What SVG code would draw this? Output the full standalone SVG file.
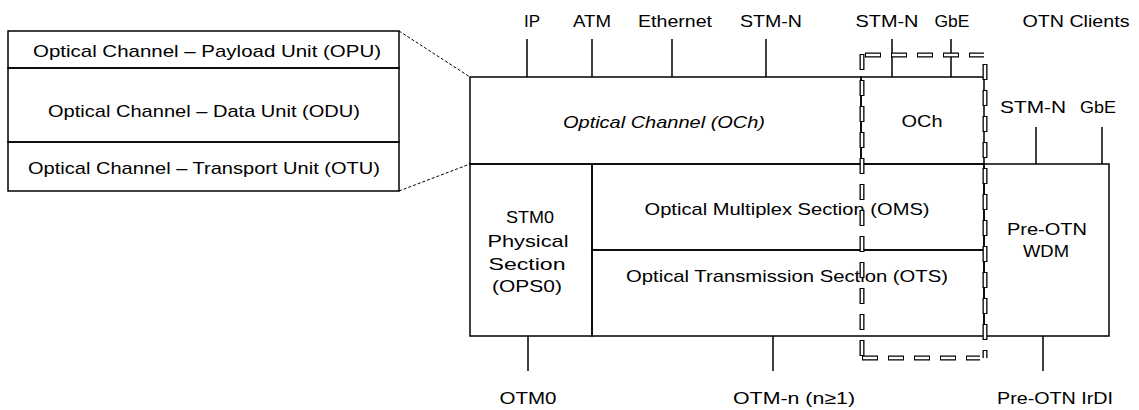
<svg xmlns="http://www.w3.org/2000/svg" width="1139" height="410" viewBox="0 0 1139 410">
<style>
.box{fill:none;stroke:#000;stroke-width:1.5}
.ln{fill:none;stroke:#000;stroke-width:1.5}
.dot{fill:none;stroke:#000;stroke-width:1;stroke-dasharray:3 2}
.dk{fill:none;stroke:#000;stroke-width:5;stroke-dasharray:16 10}
.dw{fill:none;stroke:#fff;stroke-width:2.4;stroke-dasharray:14 12;stroke-dashoffset:-1}
text{font-family:"Liberation Sans",Arial,sans-serif;font-size:17px;fill:#000;text-anchor:middle}
.it{font-style:italic}
</style>
<rect x="0" y="0" width="1139" height="410" fill="#fff"/>
<g id="otn-frame-stack">
<g id="opu"><rect class="box" x="8" y="31" width="391" height="37"/><text x="207" y="57" textLength="348" lengthAdjust="spacingAndGlyphs">Optical Channel – Payload Unit (OPU)</text></g>
<g id="odu"><rect class="box" x="8" y="68" width="391" height="74"/><text x="204" y="117" textLength="312" lengthAdjust="spacingAndGlyphs">Optical Channel – Data Unit (ODU)</text></g>
<g id="otu"><rect class="box" x="8" y="142" width="391" height="49"/><text x="204" y="174" textLength="352" lengthAdjust="spacingAndGlyphs">Optical Channel – Transport Unit (OTU)</text></g>
</g>
<g id="och"><rect class="box" x="470" y="77" width="391" height="87"/><text class="it" x="664" y="128" textLength="202" lengthAdjust="spacingAndGlyphs">Optical Channel (OCh)</text></g>
<g id="och-small"><rect class="box" x="861" y="77" width="123" height="87"/><text x="922" y="127" textLength="41" lengthAdjust="spacingAndGlyphs">OCh</text></g>
<g id="ops0"><rect class="box" x="470" y="164" width="122" height="172"/>
<text x="530" y="223" textLength="48" lengthAdjust="spacingAndGlyphs">STM0</text>
<text x="528" y="247" textLength="81" lengthAdjust="spacingAndGlyphs">Physical</text>
<text x="527" y="270" textLength="77" lengthAdjust="spacingAndGlyphs">Section</text>
<text x="527" y="292" textLength="70" lengthAdjust="spacingAndGlyphs">(OPS0)</text></g>
<g id="oms"><rect class="box" x="592" y="164" width="392" height="86"/><text x="787" y="215" textLength="285" lengthAdjust="spacingAndGlyphs">Optical Multiplex Section (OMS)</text></g>
<g id="ots"><rect class="box" x="592" y="250" width="392" height="86"/><text x="787" y="282" textLength="322" lengthAdjust="spacingAndGlyphs">Optical Transmission Section (OTS)</text></g>
<g id="pre-otn-wdm"><rect class="box" x="984" y="164" width="125" height="172"/>
<text x="1047" y="235" textLength="80" lengthAdjust="spacingAndGlyphs">Pre-OTN</text>
<text x="1046" y="257" textLength="46" lengthAdjust="spacingAndGlyphs">WDM</text></g>
<g id="clients">
<text x="532" y="27">IP</text>
<text x="592" y="27" textLength="38" lengthAdjust="spacingAndGlyphs">ATM</text>
<text x="675" y="27" textLength="74" lengthAdjust="spacingAndGlyphs">Ethernet</text>
<text x="771" y="27" textLength="62" lengthAdjust="spacingAndGlyphs">STM-N</text>
<text x="887" y="27" textLength="63" lengthAdjust="spacingAndGlyphs">STM-N</text>
<text x="952" y="27" textLength="35" lengthAdjust="spacingAndGlyphs">GbE</text>
<text x="1076" y="27" textLength="107" lengthAdjust="spacingAndGlyphs">OTN Clients</text>
<text x="1033" y="113" textLength="66" lengthAdjust="spacingAndGlyphs">STM-N</text>
<text x="1098" y="113" textLength="36" lengthAdjust="spacingAndGlyphs">GbE</text>
</g>
<g id="interfaces">
<text x="528" y="404" textLength="57" lengthAdjust="spacingAndGlyphs">OTM0</text>
<text x="794" y="404" textLength="122" lengthAdjust="spacingAndGlyphs">OTM-n (n≥1)</text>
<text x="1055" y="404" textLength="116" lengthAdjust="spacingAndGlyphs">Pre-OTN IrDI</text>
</g>
<g id="connectors">
<path class="dot" d="M399,31 L470,77 M399,191 L470,164"/>
<path class="ln" d="M527,39 V77 M592,39 V77 M672,39 V77 M766,39 V77 M892,39 V77 M951,39 V77 M1036,127 V164 M1102,127 V164 M528,336 V371 M773,336 V371 M1043,336 V371"/>
<path class="dk" d="M862,54 V358 M865,55 H984 M985,64 V358 M862,358 H980"/>
<path class="dw" d="M862,54 V358 M865,55 H984 M985,64 V358 M862,358 H980"/>
</g>
</svg>
